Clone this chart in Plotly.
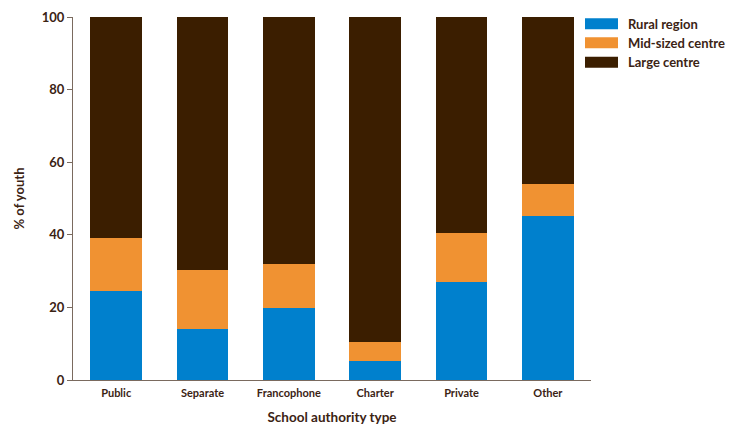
import plotly.graph_objects as go

categories = ["Public", "Separate", "Francophone", "Charter", "Private", "Other"]
rural = [24.6, 14.1, 19.9, 5.2, 27.1, 45.3]
mid_sized = [14.6, 16.3, 12.1, 5.3, 13.5, 8.8]
large = [60.8, 69.6, 68.0, 89.5, 59.4, 45.9]
series_names = ["Rural region", "Mid-sized centre", "Large centre"]
colors = ["#0080cd", "#f09232", "#3b1e00"]

TXT = "#3b2314"
FONT = "Lato"

# page body has an 8px default margin -> figure is offset by 8px
OFF = 8
PL, PR, PT, PB = 73, 591, 17, 380  # plot area in window pixels
W, H = 741 - OFF, 425 - OFF
PW, PH = PR - PL, PB - PT

fig = go.Figure()
for name, vals, col in zip(series_names, [rural, mid_sized, large], colors):
    fig.add_trace(go.Bar(x=categories, y=vals, name=name, marker_color=col,
                         marker_line_width=0, showlegend=False))

# custom legend (wide swatches)
rows_px = [23.7, 42.7, 62.2]
for name, col, ypx in zip(series_names, colors, rows_px):
    yc = (PB - ypx) / PH
    h = 5.5 / PH
    fig.add_shape(type="rect", xref="paper", yref="paper",
                  x0=(585 - PL) / PW, x1=(618 - PL) / PW,
                  y0=yc - h, y1=yc + h, fillcolor=col, line_width=0)
    fig.add_annotation(xref="paper", yref="paper", x=(626 - PL) / PW, y=yc,
                       text=name, showarrow=False, xanchor="left", yanchor="middle",
                       font=dict(family=FONT, size=13, color=TXT, weight="bold"))

fig.update_layout(
    barmode="stack",
    bargap=0.4,
    width=W, height=H,
    margin=dict(l=PL - OFF, r=W - (PR - OFF), t=PT - OFF, b=H - (PB - OFF), autoexpand=False),
    plot_bgcolor="white", paper_bgcolor="white",
    font=dict(family=FONT, color=TXT),
)
fig.update_xaxes(
    automargin=False,
    showline=True, linecolor="#7a6a5e", linewidth=1,
    ticks="", showgrid=False, ticklabelstandoff=3,
    tickfont=dict(family=FONT, size=11, color=TXT, weight="bold"),
    title=dict(text="School authority type", standoff=17,
               font=dict(family=FONT, size=13.5, color=TXT, weight="bold")),
)
fig.update_yaxes(
    automargin=False,
    range=[0, 100], dtick=20, showline=True, linecolor="#7a6a5e", linewidth=1,
    ticks="outside", ticklen=5, tickcolor="#7a6a5e", showgrid=False, zeroline=False,
    tickfont=dict(family=FONT, size=13, color=TXT, weight="bold"),
    title=dict(text="% of youth", standoff=14,
               font=dict(family=FONT, size=13, color=TXT, weight="bold")),
)

fig.write_html("out.html")
